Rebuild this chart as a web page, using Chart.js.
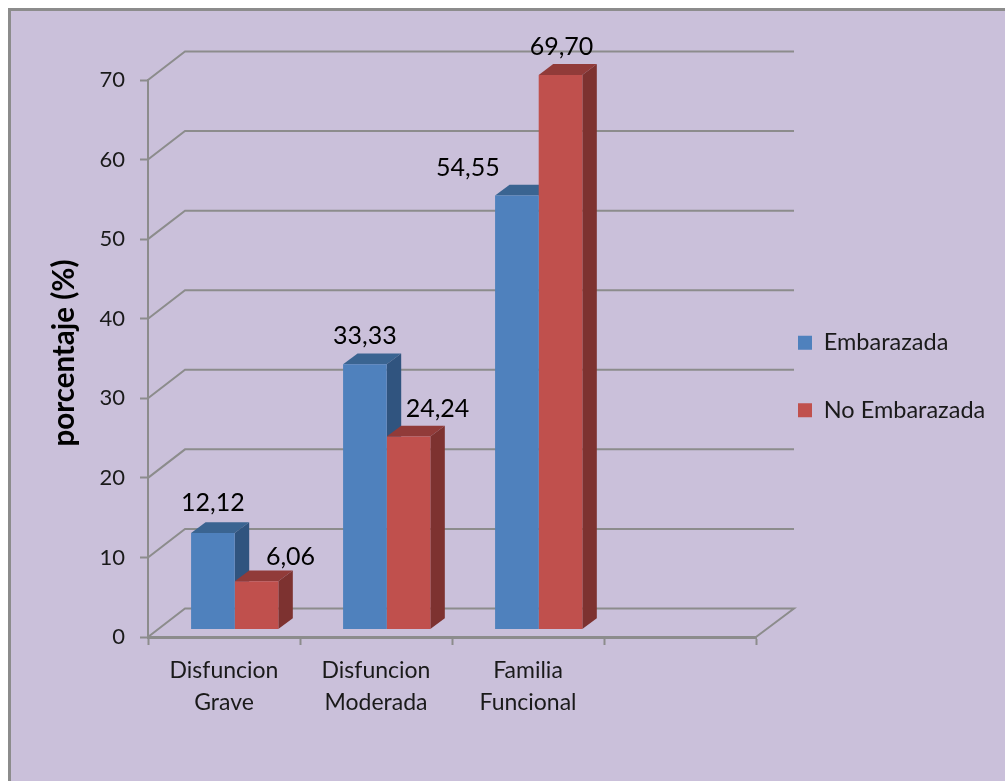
<!DOCTYPE html>
<html>
<head>
<meta charset="utf-8">
<title>Funcionalidad familiar</title>
<script src="https://cdn.jsdelivr.net/npm/chart.js@4"></script>
<style>
  html, body { margin: 0; padding: 0; background: #fff; overflow: hidden; }
  #panel { position: absolute; left: 8px; top: 8px; width: 997px; height: 773px; box-sizing: border-box;
           background: #cac0da; border-left: 3px solid #8c8c8c; border-top: 3px solid #8c8c8c; }
  #chart { position: absolute; left: 0; top: 0; }
</style>
</head>
<body>
<div id="panel"></div>
<canvas id="chart" width="1005" height="781"></canvas>
<script>
const categories = [['Disfuncion', 'Grave'], ['Disfuncion', 'Moderada'], ['Familia', 'Funcional'], ''];
const embarazada = [12.12, 33.33, 54.55, null];
const noEmbarazada = [6.06, 24.24, 69.70, null];
const yTicks = [0, 10, 20, 30, 40, 50, 60, 70];

const FONT = 'Lato';
const GRID = '#8c8c8c';
const TEXT = '#1a1a1a';

// profondita del finto 3D
const WALL = { dx: 37, dy: -28.5 };
const BAR_SHIFT = { dx: 10.7, dy: -7.5 };
const BAR_DEPTH = { dx: 14.5, dy: -10.8 };
const LEGEND_LIFT = 54;

const faces = [
    { side: '#30547f', top: '#3a6491' },
    { side: '#7d3230', top: '#913b39' }
];
// spostamento delle etichette rispetto al centro alto della barra
const labelNudge = [
    [[0, -30], [0, -28], [-49, -28]],
    [[34, -24], [29, -28], [1, -28]]
];

const fake3d = {
    id: 'fake3d',
    afterLayout(chart) {
        // la legenda viene ritagliata sul suo box: lo allargo fino al bordo
        chart.legend.top -= LEGEND_LIFT;
        chart.legend.bottom -= LEGEND_LIFT;
        chart.legend.left -= 2;
        chart.legend.right = chart.width;
    },
    beforeDatasetsDraw(chart) {
        const { ctx, chartArea: a, scales: { y } } = chart;
        ctx.save();
        ctx.strokeStyle = GRID;
        ctx.lineWidth = 2;
        yTicks.forEach(v => {
            const py = y.getPixelForValue(v);
            ctx.beginPath();
            ctx.moveTo(a.left, py);
            ctx.lineTo(a.left + WALL.dx, py + WALL.dy);
            ctx.lineTo(a.right + WALL.dx + 1, py + WALL.dy);
            if (v === 0) ctx.lineTo(a.right, py);
            ctx.stroke();
        });
        ctx.restore();

        ctx.save();
        ctx.translate(BAR_SHIFT.dx, BAR_SHIFT.dy);
        chart.data.datasets.forEach((ds, i) => {
            chart.getDatasetMeta(i).data.forEach((bar, j) => {
                if (ds.data[j] == null) return;
                const p = bar.getProps(['x', 'y', 'base', 'width'], true);
                const l = p.x - p.width / 2, r = p.x + p.width / 2;
                ctx.fillStyle = faces[i].top;
                ctx.beginPath();
                ctx.moveTo(l, p.y);
                ctx.lineTo(l + BAR_DEPTH.dx, p.y + BAR_DEPTH.dy);
                ctx.lineTo(r + BAR_DEPTH.dx, p.y + BAR_DEPTH.dy);
                ctx.lineTo(r, p.y);
                ctx.fill();
                ctx.fillStyle = faces[i].side;
                ctx.beginPath();
                ctx.moveTo(r, p.y);
                ctx.lineTo(r + BAR_DEPTH.dx, p.y + BAR_DEPTH.dy);
                ctx.lineTo(r + BAR_DEPTH.dx, p.base + BAR_DEPTH.dy);
                ctx.lineTo(r, p.base);
                ctx.fill();
            });
        });
        // il restore e in afterDatasetsDraw, cosi anche le barre vengono spostate
    },
    afterDatasetsDraw(chart) {
        const { ctx } = chart;
        ctx.restore();

        ctx.save();
        ctx.font = '25px ' + FONT;
        ctx.fillStyle = '#000';
        ctx.textAlign = 'center';
        ctx.textBaseline = 'middle';
        chart.data.datasets.forEach((ds, i) => {
            chart.getDatasetMeta(i).data.forEach((bar, j) => {
                if (ds.data[j] == null) return;
                const n = labelNudge[i][j];
                ctx.fillText(ds.data[j].toFixed(2).replace('.', ','),
                    bar.x + BAR_SHIFT.dx + n[0], bar.y + BAR_SHIFT.dy + n[1]);
            });
        });
        ctx.restore();

        // titolo asse y, leggermente sopra il centro dell'area
        ctx.save();
        ctx.translate(64, 353);
        ctx.rotate(-Math.PI / 2);
        ctx.font = 'bold 29.5px ' + FONT;
        ctx.fillStyle = '#000';
        ctx.textAlign = 'center';
        ctx.textBaseline = 'middle';
        ctx.fillText('porcentaje (%)', 0, 0);
        ctx.restore();
    }
};

new Chart(document.getElementById('chart'), {
    type: 'bar',
    data: {
        labels: categories,
        datasets: [
            { label: 'Embarazada', data: embarazada, backgroundColor: '#4f81bd', clip: false },
            { label: 'No Embarazada', data: noEmbarazada, backgroundColor: '#c0504d', clip: false }
        ]
    },
    options: {
        responsive: false,
        animation: false,
        layout: { padding: { left: 10, top: 80, right: 33, bottom: 0 } },
        datasets: { bar: { barPercentage: 1, categoryPercentage: 0.574 } },
        plugins: {
            tooltip: { enabled: false },
            legend: {
                position: 'right',
                maxWidth: 216,
                labels: {
                    boxWidth: 14,
                    boxHeight: 14,
                    padding: 44,
                    color: TEXT,
                    font: { family: FONT, size: 23.5 }
                }
            }
        },
        scales: {
            x: {
                afterFit(scale) { scale.height = 144; },
                grid: { drawOnChartArea: false, tickLength: 8, tickColor: GRID, tickWidth: 2 },
                border: { color: GRID, width: 3 },
                ticks: { color: TEXT, padding: 10, maxRotation: 0, autoSkip: false,
                         font: { family: FONT, size: 23, lineHeight: 1.38 } }
            },
            y: {
                min: 0,
                max: 70,
                afterFit(scale) { scale.width = 138; },
                grid: { drawOnChartArea: false, tickLength: 8, tickColor: GRID, tickWidth: 2 },
                border: { color: GRID, width: 2 },
                ticks: { stepSize: 10, color: TEXT, padding: 15, font: { family: FONT, size: 22 } }
            }
        }
    },
    plugins: [fake3d]
});
</script>
</body>
</html>
